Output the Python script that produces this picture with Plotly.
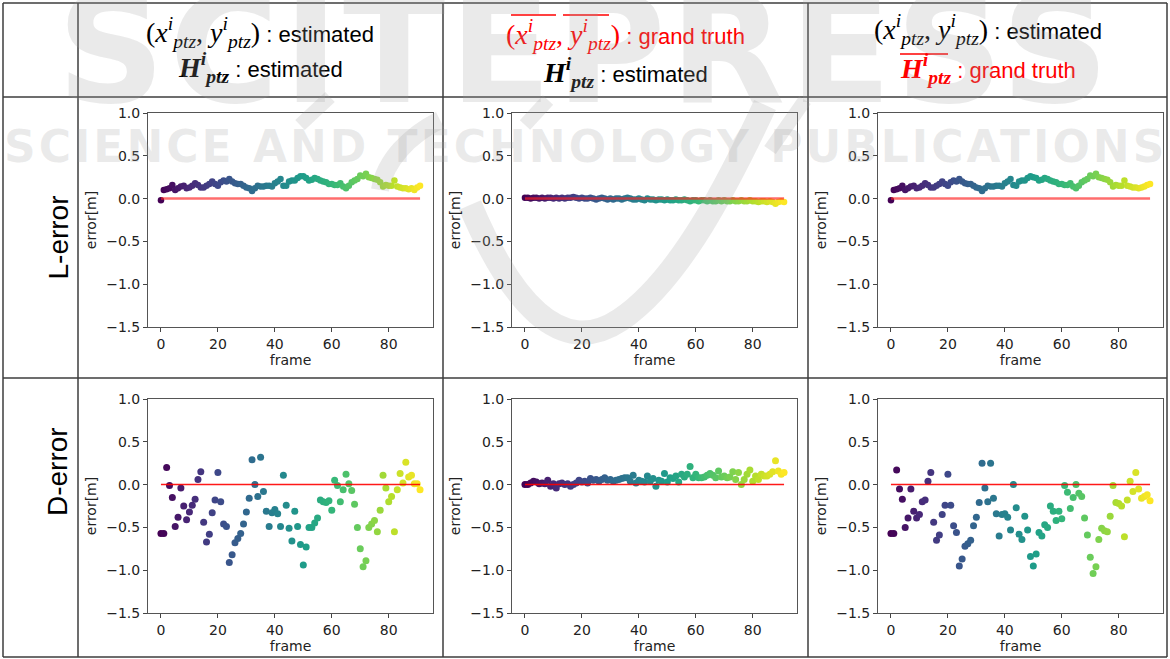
import plotly.graph_objects as go

# ---------------- data ----------------
frames = list(range(92))
x_ticks = [0, 20, 40, 60, 80]
y_ticks = [-1.5, -1.0, -0.5, 0.0, 0.5, 1.0]
y_ticktext = ["\u22121.5", "\u22121.0", "\u22120.5", "0.0", "0.5", "1.0"]

L_est_est = [-0.02, 0.10, 0.11, 0.12, 0.16, 0.10, 0.12, 0.14, 0.15, 0.12,
             0.13, 0.15, 0.18, 0.16, 0.13, 0.13, 0.15, 0.17, 0.20, 0.17,
             0.15, 0.19, 0.21, 0.20, 0.23, 0.20, 0.18, 0.17, 0.17, 0.15,
             0.13, 0.12, 0.09, 0.12, 0.15, 0.14, 0.14, 0.15, 0.15, 0.14,
             0.18, 0.20, 0.23, 0.15, 0.15, 0.20, 0.21, 0.21, 0.24, 0.26,
             0.26, 0.24, 0.21, 0.22, 0.24, 0.23, 0.21, 0.20, 0.19, 0.17,
             0.17, 0.16, 0.16, 0.18, 0.14, 0.12, 0.15, 0.19, 0.21, 0.23,
             0.27, 0.26, 0.29, 0.25, 0.24, 0.23, 0.22, 0.19, 0.14, 0.16,
             0.15, 0.15, 0.21, 0.14, 0.13, 0.12, 0.12, 0.11, 0.12, 0.10,
             0.13, 0.15]

L_gt_est = [0.01, 0.01, 0.00, 0.01, 0.01, 0.00, 0.01, 0.00, 0.01, 0.01,
            0.00, 0.01, 0.00, 0.01, 0.00, 0.01, 0.01, 0.02, 0.01, 0.00,
            0.01, 0.00, 0.00, 0.01, 0.00, -0.01, 0.00, 0.01, 0.00, -0.01,
            0.00, -0.01, 0.00, 0.00, -0.01, 0.00, 0.01, 0.00, -0.01, -0.01,
            0.00, -0.01, -0.02, 0.00, -0.01, -0.01, -0.02, -0.01, -0.01, -0.02,
            -0.01, -0.02, -0.02, -0.01, -0.02, -0.02, -0.01, -0.02, -0.03, -0.02,
            -0.02, -0.03, -0.02, -0.02, -0.03, -0.02, -0.03, -0.03, -0.02, -0.03,
            -0.02, -0.03, -0.03, -0.02, -0.03, -0.03, -0.02, -0.03, -0.03, -0.02,
            -0.03, -0.03, -0.04, -0.03, -0.03, -0.04, -0.03, -0.04, -0.06, -0.04,
            -0.03, -0.04]

L_est_gt = [-0.02, 0.10, 0.11, 0.12, 0.15, 0.10, 0.12, 0.14, 0.15, 0.12,
            0.13, 0.15, 0.18, 0.16, 0.13, 0.13, 0.15, 0.17, 0.20, 0.17,
            0.15, 0.19, 0.21, 0.20, 0.23, 0.20, 0.18, 0.17, 0.17, 0.15,
            0.13, 0.12, 0.09, 0.12, 0.15, 0.14, 0.14, 0.15, 0.15, 0.14,
            0.18, 0.20, 0.23, 0.16, 0.15, 0.20, 0.21, 0.21, 0.24, 0.26,
            0.25, 0.24, 0.21, 0.22, 0.24, 0.23, 0.21, 0.20, 0.19, 0.17,
            0.17, 0.16, 0.16, 0.18, 0.14, 0.12, 0.15, 0.19, 0.21, 0.23,
            0.27, 0.26, 0.29, 0.25, 0.24, 0.23, 0.22, 0.19, 0.14, 0.16,
            0.15, 0.15, 0.21, 0.15, 0.14, 0.13, 0.13, 0.12, 0.13, 0.14,
            0.16, 0.17]

D_est_est = [-0.57, -0.57, 0.20, -0.01, -0.15, -0.49, -0.38, -0.04, -0.25, -0.41,
             -0.32, -0.24, -0.17, 0.06, 0.15, -0.44, -0.67, -0.58, -0.33, -0.18,
             0.14, -0.20, -0.46, -0.49, -0.91, -0.82, -0.68, -0.63, -0.57, -0.46,
             -0.32, -0.16, 0.29, 0.00, -0.14, 0.32, -0.08, -0.31, -0.49, -0.33,
             -0.29, -0.34, -0.49, 0.11, -0.24, -0.51, -0.66, -0.31, -0.49, -0.70,
             -0.94, -0.73, -0.50, -0.50, -0.45, -0.39, -0.18, -0.20, -0.21, -0.19,
             -0.30, 0.05, -0.01, -0.20, -0.06, 0.12, 0.01, -0.07, -0.23, -0.50,
             -0.75, -0.96, -0.89, -0.50, -0.46, -0.42, -0.55, -0.30, 0.11, -0.04,
             -0.20, -0.14, -0.55, -0.06, 0.13, 0.02, 0.26, 0.09, 0.11, 0.01,
             0.01, -0.06]

D_gt_est = [0.00, 0.00, 0.02, 0.04, 0.03, 0.01, 0.02, 0.01, 0.05, -0.02,
            0.01, -0.04, 0.01, 0.02, 0.00, 0.01, -0.02, 0.00, 0.02, 0.05,
            0.03, 0.04, 0.02, 0.07, 0.05, 0.06, 0.04, 0.06, 0.08, 0.05,
            0.06, 0.04, 0.05, 0.06, 0.07, 0.08, 0.08, 0.04, 0.11, 0.02,
            0.05, 0.04, 0.03, 0.10, 0.04, 0.07, -0.02, 0.05, 0.04, 0.13,
            0.03, 0.08, 0.07, 0.10, 0.03, 0.12, 0.09, 0.12, 0.21, 0.08,
            0.12, 0.08, 0.08, 0.09, 0.11, 0.13, 0.11, 0.08, 0.16, 0.09,
            0.10, 0.08, 0.09, 0.15, 0.06, 0.14, 0.00, 0.06, 0.12, 0.17,
            0.04, 0.10, 0.06, 0.12, 0.10, 0.10, 0.12, 0.15, 0.28, 0.16,
            0.12, 0.14]

D_est_gt = [-0.57, -0.57, 0.17, -0.05, -0.17, -0.50, -0.39, -0.05, -0.31, -0.39,
            -0.35, -0.20, -0.18, 0.04, 0.14, -0.44, -0.65, -0.59, -0.35, -0.24,
            0.12, -0.24, -0.48, -0.56, -0.95, -0.87, -0.72, -0.69, -0.65, -0.48,
            -0.38, -0.21, 0.25, -0.04, -0.20, 0.25, -0.16, -0.34, -0.60, -0.35,
            -0.34, -0.38, -0.53, 0.00, -0.27, -0.58, -0.64, -0.37, -0.53, -0.84,
            -0.95, -0.81, -0.56, -0.60, -0.47, -0.50, -0.25, -0.31, -0.42, -0.31,
            -0.40, -0.01, -0.09, -0.28, -0.15, 0.00, -0.10, -0.14, -0.39, -0.59,
            -0.85, -1.04, -0.96, -0.64, -0.51, -0.54, -0.55, -0.37, -0.01, -0.21,
            -0.22, -0.25, -0.61, -0.18, 0.04, -0.08, 0.14, -0.05, -0.16, -0.14,
            -0.12, -0.19]

row_labels = ["L-error", "D-error"]

# ---------------- layout helpers ----------------
W, H = 1170, 659
def px(p):
    return p / W
def py(p):
    return 1 - p / H

col_x = [(148, 433), (512, 797), (878, 1163)]
row_y = [(113, 327), (399, 613)]
panels = [(L_est_est, 0, 0), (L_gt_est, 0, 1), (L_est_gt, 0, 2),
          (D_est_est, 1, 0), (D_gt_est, 1, 1), (D_est_gt, 1, 2)]

fig = go.Figure()
TICKFONT = dict(family="DejaVu Sans", size=14, color="#222")
TITLEFONT = dict(family="DejaVu Sans", size=14, color="#222")

for k, (vals, r, c) in enumerate(panels):
    sfx = "" if k == 0 else str(k + 1)
    xa, ya = "x" + sfx, "y" + sfx
    msize = 6.5 if r == 0 else 7
    fig.add_trace(go.Scatter(
        x=frames, y=vals, mode="markers", xaxis=xa, yaxis=ya,
        marker=dict(size=msize, color=frames, colorscale="Viridis",
                    cmin=frames[0], cmax=frames[-1], line=dict(width=0)),
        showlegend=False, hoverinfo="skip"))
    fig.add_trace(go.Scatter(
        x=[frames[0], frames[-1]], y=[0, 0], mode="lines", xaxis=xa, yaxis=ya,
        line=dict(color="rgba(255,30,30,0.65)" if r == 0 else "rgba(255,0,0,0.9)",
                  width=2.5 if r == 0 else 1.5),
        showlegend=False, hoverinfo="skip"))
    fig.layout["xaxis" + sfx] = dict(
        domain=[px(col_x[c][0]), px(col_x[c][1])], anchor=ya, automargin=False,
        range=[-4.55, 95.55], tickvals=x_ticks, ticks="outside", ticklen=4,
        tickcolor="#444", showline=True, linecolor="#555", linewidth=1,
        mirror=True, showgrid=False, zeroline=False, tickfont=TICKFONT,
        title=dict(text="frame", font=TITLEFONT, standoff=0))
    fig.layout["yaxis" + sfx] = dict(
        domain=[py(row_y[r][1]), py(row_y[r][0])], anchor=xa, automargin=False,
        range=[-1.5, 1.0], tickvals=y_ticks, ticktext=y_ticktext,
        ticks="outside", ticklen=4, tickcolor="#444", showline=True,
        linecolor="#555", linewidth=1, mirror=True, showgrid=False,
        zeroline=False, tickfont=TICKFONT,
        title=dict(text="error[m]", font=TITLEFONT, standoff=6))

# ---------------- table lines ----------------
LC = "#3c3c3c"
shapes = []
for xv in [3, 78, 443, 808, 1167]:
    shapes.append(dict(type="line", xref="paper", yref="paper",
                       x0=px(xv), x1=px(xv), y0=py(3), y1=py(657),
                       line=dict(color=LC, width=1.5)))
for yv in [3, 97, 378, 657]:
    shapes.append(dict(type="line", xref="paper", yref="paper",
                       x0=px(3), x1=px(1167), y0=py(yv), y1=py(yv),
                       line=dict(color=LC, width=1.5)))

# overlines of the "grand truth" symbols
RED = "#ff0000"
for (a, b, yy) in [(511, 556, 15), (563, 609, 15), (900, 948, 54)]:
    shapes.append(dict(type="line", xref="paper", yref="paper",
                       x0=px(a), x1=px(b), y0=py(yy), y1=py(yy),
                       line=dict(color=RED, width=1.5)))

# watermark swoosh
WM = "rgba(160,160,160,0.22)"
def pth(points):
    s = "M %f,%f" % (px(points[0][0]), py(points[0][1]))
    for i in range(1, len(points), 3):
        s += " C " + " ".join("%f,%f" % (px(a), py(b)) for a, b in points[i:i + 3])
    return s
shapes.append(dict(type="path", xref="paper", yref="paper", layer="above",
                   path=pth([(470, 205), (510, 300), (560, 360), (620, 320),
                             (680, 280), (730, 180), (765, 105)]),
                   line=dict(color=WM, width=24)))
shapes.append(dict(type="path", xref="paper", yref="paper", layer="above",
                   path=pth([(440, 120), (410, 135), (385, 160), (380, 190)]),
                   line=dict(color=WM, width=18)))
for (a, b, c2, d) in [(300, 125, 330, 97), (525, 125, 548, 100), (770, 150, 805, 100)]:
    shapes.append(dict(type="line", xref="paper", yref="paper", layer="above",
                       x0=px(a), y0=py(b), x1=px(c2), y1=py(d),
                       line=dict(color=WM, width=14)))

# ---------------- header texts ----------------
SER = "font-family:Liberation Serif;font-size:28px"
def xy_pair():
    return ('<span style="%s">(<i>x</i><sup><i>i</i></sup><sub><i>ptz</i></sub>, '
            '<i>y</i><sup><i>i</i></sup><sub><i>ptz</i></sub>)</span>' % SER)
def h_sym():
    return ('<span style="%s"><b><i>H</i></b><sup><b><i>i</i></b></sup><sub><b><i>ptz</i></b></sub></span>'
            % SER)

headers = [
    (260, 33, xy_pair() + " : estimated", "#000"),
    (260, 67, h_sym() + " : estimated", "#000"),
    (625, 35, xy_pair() + " : grand truth", RED),
    (625, 72, h_sym() + " : estimated", "#000"),
    (988, 30, xy_pair() + " : estimated", "#000"),
    (988, 68, h_sym() + " : grand truth", RED),
]

ann = []
for (xx, yy, t, col) in headers:
    ann.append(dict(x=px(xx), y=py(yy), xref="paper", yref="paper", text=t,
                    showarrow=False, xanchor="center", yanchor="middle",
                    font=dict(family="Liberation Sans", size=22, color=col)))

for i, lab in enumerate(row_labels):
    ann.append(dict(x=px(40), y=py([238, 518][i]), xref="paper", yref="paper",
                    text=lab, textangle=-90, showarrow=False,
                    font=dict(family="Liberation Sans", size=28, color="#000")))

# watermark texts
ann.append(dict(x=0.5, y=py(50), xref="paper", yref="paper",
                text='<b><span style="letter-spacing:4px">SCITEPRESS</span></b>',
                showarrow=False, xanchor="center", yanchor="middle",
                font=dict(family="DejaVu Sans", size=150, color=WM)))
ann.append(dict(x=0.5, y=py(147), xref="paper", yref="paper",
                text='<b><span style="letter-spacing:3px">SCIENCE AND TECHNOLOGY PUBLICATIONS</span></b>',
                showarrow=False, xanchor="center", yanchor="middle",
                font=dict(family="DejaVu Sans", size=44, color=WM)))

fig.update_layout(width=W, height=H, margin=dict(l=0, r=0, t=0, b=0, autoexpand=False),
                  paper_bgcolor="white", plot_bgcolor="white",
                  shapes=shapes, annotations=ann)

fig.write_html("out.html", config={"displayModeBar": False},
               post_script="document.body.style.margin='0px';"
                           "document.body.style.padding='0px';"
                           "document.body.style.overflow='hidden';")
